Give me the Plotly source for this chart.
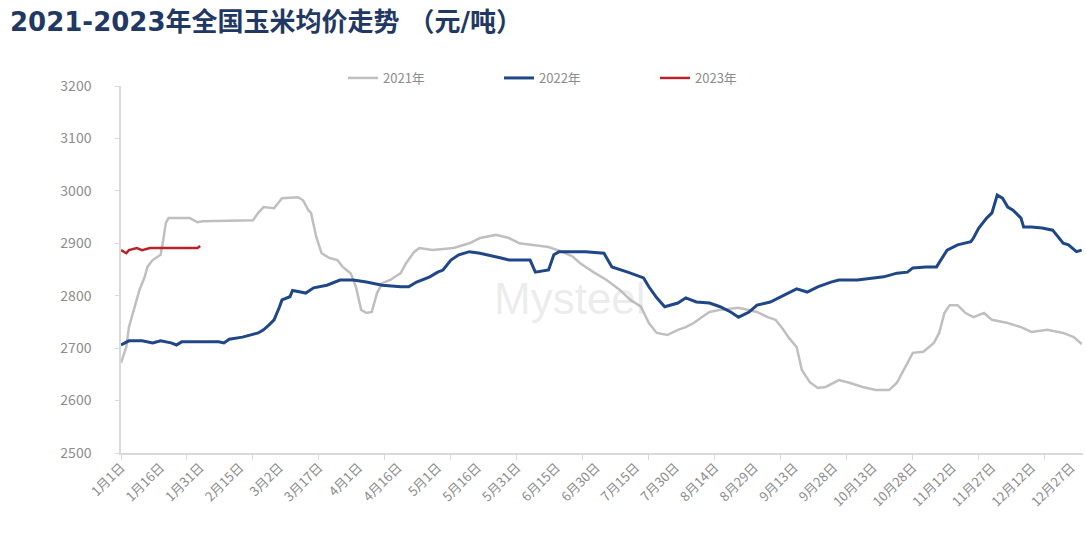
import plotly.graph_objects as go

# ---- data (day index from Jan 1, value in 元/吨) ----
tick_labels = ["1月1日", "1月16日", "1月31日", "2月15日", "3月2日", "3月17日", "4月1日",
               "4月16日", "5月1日", "5月16日", "5月31日", "6月15日", "6月30日", "7月15日",
               "7月30日", "8月14日", "8月29日", "9月13日", "9月28日", "10月13日", "10月28日",
               "11月12日", "11月27日", "12月12日", "12月27日"]
tick_days = [0, 15, 30, 45, 60, 75, 90, 105, 120, 135, 150, 165, 180, 195, 210, 225,
             240, 255, 270, 285, 300, 315, 330, 345, 360]

days_2021 = [0, 2, 3, 5, 7, 9, 10, 12, 15, 16, 17, 18, 26, 29, 31, 50, 52, 54, 58, 61,
             67, 69, 71, 72, 74, 76, 79, 82, 84, 87, 89, 91, 93, 95, 97, 99, 102, 106,
             108, 111, 113, 118, 126, 132, 136, 142, 147, 151, 155, 162, 167, 171, 174,
             179, 184, 189, 193, 197, 200, 203, 207, 211, 214, 217, 220, 223, 227, 234,
             241, 245, 248, 251, 253, 256, 258, 261, 264, 267, 272, 276, 281, 286, 291,
             294, 298, 300, 304, 308, 310, 312, 314, 317, 320, 323, 327, 330, 336, 341,
             345, 351, 357, 361, 364]
vals_2021 = [2672, 2702, 2740, 2778, 2811, 2836, 2855, 2868, 2878, 2906, 2939, 2948, 2948,
             2940, 2942, 2944, 2958, 2969, 2967, 2986, 2988, 2982, 2963, 2958, 2912, 2881,
             2872, 2868, 2855, 2843, 2817, 2773, 2767, 2769, 2805, 2824, 2830, 2843, 2862,
             2883, 2891, 2887, 2891, 2900, 2910, 2916, 2910, 2900, 2897, 2893, 2884, 2875,
             2862, 2845, 2830, 2811, 2792, 2779, 2748, 2729, 2725, 2735, 2740, 2748, 2759,
             2769, 2773, 2777, 2769, 2759, 2754, 2735, 2720, 2702, 2658, 2635, 2624, 2626,
             2639, 2634, 2626, 2620, 2620, 2634, 2672, 2691, 2693, 2710, 2729, 2767, 2782,
             2782, 2767, 2759, 2767, 2754, 2748, 2740, 2731, 2735, 2729, 2721, 2708]

days_2022 = [0, 3, 8, 12, 15, 19, 21, 23, 37, 39, 41, 46, 52, 54, 56, 58, 60, 61, 64, 65,
             68, 70, 73, 78, 83, 88, 93, 99, 106, 109, 112, 117, 120, 122, 125, 128, 132,
             136, 144, 147, 155, 157, 162, 164, 166, 176, 183, 186, 192, 198, 200, 203,
             206, 211, 214, 218, 223, 227, 231, 234, 238, 241, 246, 251, 256, 260, 264,
             269, 272, 279, 285, 289, 294, 298, 300, 305, 309, 311, 313, 317, 322, 323,
             325, 328, 330, 332, 334, 336, 338, 341, 342, 345, 349, 353, 355, 357, 359,
             362, 364]
vals_2022 = [2706, 2714, 2714, 2710, 2714, 2710, 2706, 2712, 2712, 2710, 2717, 2721, 2729,
             2735, 2744, 2754, 2778, 2792, 2798, 2810, 2807, 2805, 2815, 2820, 2830, 2830,
             2826, 2820, 2817, 2817, 2826, 2836, 2845, 2849, 2868, 2878, 2884, 2881, 2872,
             2868, 2868, 2845, 2849, 2878, 2884, 2884, 2881, 2855, 2845, 2834, 2817, 2796,
             2779, 2786, 2796, 2788, 2786, 2779, 2769, 2759, 2769, 2782, 2788, 2801, 2813,
             2807, 2817, 2826, 2830, 2830, 2834, 2836, 2843, 2845, 2853, 2855, 2855, 2872,
             2887, 2897, 2903, 2910, 2929, 2948, 2958, 2992, 2986, 2969, 2963, 2948, 2931,
             2931, 2929, 2925, 2912, 2900, 2897, 2884, 2887]

days_2023 = [0, 2, 3, 6, 8, 11, 29, 30]
vals_2023 = [2887, 2881, 2887, 2891, 2887, 2891, 2891, 2895]

series = [
    ("2021年", days_2021, vals_2021, "#BFBFBF", 2.5),
    ("2022年", days_2022, vals_2022, "#1F4788", 3),
    ("2023年", days_2023, vals_2023, "#B8232B", 2.5),
]

fig = go.Figure()
for name, d, v, color, w in series:
    fig.add_trace(go.Scatter(x=d, y=v, mode="lines", name=name,
                             line=dict(color=color, width=w)))

axis_color = "#D9D9D9"
cjk = "Noto Sans CJK SC, Noto Sans, sans-serif"
tick_font = dict(family=cjk, size=13, color="#8C8C8C")

fig.update_layout(
    width=1086, height=559,
    margin=dict(l=121, r=3, t=86, b=106),
    paper_bgcolor="white", plot_bgcolor="white",
    showlegend=True,
    legend=dict(orientation="h", x=(343 - 121) / 962, xanchor="left",
                y=1 + 8 / 367, yanchor="middle",
                font=dict(family=cjk, size=13, color="#8C8C8C"),
                entrywidth=111, entrywidthmode="pixels", bgcolor="rgba(0,0,0,0)"),
    xaxis=dict(range=[0, 364.5], tickmode="array", tickvals=tick_days, ticktext=tick_labels,
               tickangle=-45, tickfont=tick_font, showgrid=False, zeroline=False,
               showline=True, linecolor=axis_color, linewidth=1.5, ticks="",
               minor=dict(ticks="outside", ticklen=5, tickcolor=axis_color,
                          tick0=0, dtick=25, showgrid=False)),
    yaxis=dict(range=[2500, 3200], dtick=100, tickfont=dict(family=cjk, size=14, color="#8C8C8C"),
               showgrid=False, zeroline=False, showline=True, linecolor=axis_color,
               linewidth=1.5, ticks="outside", ticklen=4, tickcolor=axis_color,
               ticklabelstandoff=21),
    annotations=[
        dict(text="Mysteel", xref="paper", yref="paper", x=(570 - 121) / 962, y=(453 - 298) / 367,
             xanchor="center", yanchor="middle", showarrow=False,
             font=dict(family="Liberation Sans, sans-serif", size=44,
                       color="rgba(180,180,180,0.25)")),
        dict(text="<b>2021-2023年全国玉米均价走势 （元/吨）</b>",
             xref="paper", yref="paper", x=-113 / 962, y=1 + 64 / 367,
             xanchor="left", yanchor="middle", showarrow=False,
             font=dict(family="DejaVu Sans, Noto Sans CJK SC, sans-serif",
                       size=26, color="#1F3864")),
    ],
)

fig.write_html("out.html", config={"displayModeBar": False},
               post_script="document.body.style.margin='0';")
